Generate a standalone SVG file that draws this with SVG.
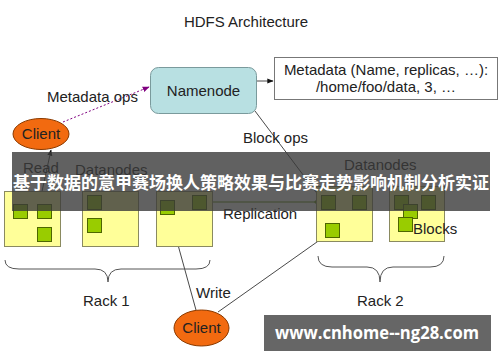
<svg xmlns="http://www.w3.org/2000/svg" width="500" height="362" viewBox="0 0 500 362">
<defs>
<style>
.t{font-family:"Liberation Sans",Arial,sans-serif;font-size:15px;fill:#222;}
.dn{fill:#ffff99;stroke:#8a8a60;stroke-width:1;}
.blk{fill:#99cc00;stroke:#4d6600;stroke-width:1;}
.ln{stroke:#333;stroke-width:0.9;fill:none;}
.brace{stroke:#555;stroke-width:1;fill:none;}
</style>
<marker id="ah" viewBox="0 0 10 10" refX="9" refY="5" markerWidth="7" markerHeight="7" orient="auto-start-reverse">
<path d="M0,1 L10,5 L0,9 z" fill="#111"/>
</marker>
<marker id="ahp" viewBox="0 0 10 10" refX="9" refY="5" markerWidth="7" markerHeight="7" orient="auto">
<path d="M0,1 L10,5 L0,9 z" fill="#800080"/>
</marker>
<marker id="ahg" viewBox="0 0 10 10" refX="5" refY="5" markerWidth="5" markerHeight="5" orient="auto">
<path d="M0,5 L5,0 L10,5 L5,10 z" fill="#5a8a00"/>
</marker>
</defs>
<rect width="500" height="362" fill="#ffffff"/>
<text class="t" x="246" y="27" text-anchor="middle">HDFS Architecture</text>

<g id="connectors">
<path class="ln" d="M257,81 L273,81" marker-end="url(#ah)"/>
<path d="M63,122 L149,87" stroke="#800080" stroke-width="1" stroke-dasharray="2,2" fill="none" marker-end="url(#ahp)"/>
<path class="ln" d="M41,196 L51,150" marker-end="url(#ah)"/>
<path class="ln" d="M255,111 L319,196"/>
<path d="M208,202 L317,202" stroke="#5a8a00" stroke-width="1.2" fill="none" marker-start="url(#ahg)" marker-end="url(#ahg)"/>
<path class="ln" d="M196,310 L170,216" marker-end="url(#ah)"/>
<path class="ln" d="M218,312 L324,237" marker-end="url(#ah)"/>
</g>

<g id="namenode">
<rect x="150.5" y="67.5" width="106" height="46" rx="8" fill="#b8e0e2" stroke="#7a9a9c" stroke-width="1"/>
<text class="t" x="203.5" y="96" text-anchor="middle" font-size="16">Namenode</text>
</g>

<g id="metadata">
<rect x="274.5" y="57.5" width="223" height="42" fill="#fff" stroke="#777" stroke-width="1"/>
<text class="t" x="386" y="75" text-anchor="middle">Metadata (Name, replicas, …):</text>
<text class="t" x="386" y="92" text-anchor="middle">/home/foo/data, 3, …</text>
</g>

<text class="t" x="47" y="102">Metadata ops</text>
<text class="t" x="243" y="143">Block ops</text>

<g id="client-read">
<ellipse cx="41" cy="134" rx="28" ry="15.5" fill="#f26a10" stroke="#8a3a00" stroke-width="1"/>
<text class="t" x="41" y="139" text-anchor="middle">Client</text>
</g>

<text class="t" x="23" y="173">Read</text>
<text class="t" x="75" y="175">Datanodes</text>
<text class="t" x="344" y="170">Datanodes</text>

<g id="dn1">
<rect class="dn" x="4.5" y="191.5" width="56" height="55"/>
<rect class="blk" x="13.5" y="204.5" width="14" height="14"/>
<rect class="blk" x="37.5" y="204.5" width="14" height="14"/>
<rect class="blk" x="37.5" y="227.5" width="14" height="14"/>
</g>
<g id="dn2">
<rect class="dn" x="82.5" y="191.5" width="56" height="55"/>
<rect class="blk" x="87.5" y="195.5" width="14" height="14"/>
<rect class="blk" x="87.5" y="218.5" width="14" height="14"/>
</g>
<g id="dn3">
<rect class="dn" x="156.5" y="191.5" width="56" height="55"/>
<rect class="blk" x="160.5" y="200.5" width="14" height="14"/>
<rect class="blk" x="192.5" y="195.5" width="14" height="14"/>
</g>
<g id="dn4">
<rect class="dn" x="316.5" y="186.5" width="56" height="55"/>
<rect class="blk" x="321.5" y="195.5" width="14" height="14"/>
<rect class="blk" x="352.5" y="195.5" width="14" height="14"/>
<rect class="blk" x="325.5" y="223.5" width="14" height="14"/>
</g>
<g id="dn5">
<rect class="dn" x="389.5" y="186.5" width="55" height="55"/>
<rect class="blk" x="394.5" y="195.5" width="14" height="14"/>
<rect class="blk" x="421.5" y="195.5" width="14" height="14"/>
<rect class="blk" x="403.5" y="204.5" width="14" height="14"/>
<rect class="blk" x="398.5" y="217.5" width="14" height="14"/>
</g>

<text class="t" x="223" y="219">Replication</text>
<text class="t" x="413" y="234">Blocks</text>

<path class="brace" d="M5,260 Q5,269 19,269 L95,269 Q108,269 108,282 Q108,269 121,269 L196,269 Q210,269 210,260"/>
<path class="brace" d="M318,256 Q318,267 332,267 L367,267 Q380,267 380,282 Q380,267 393,267 L430,267 Q444,267 444,256"/>
<text class="t" x="83" y="306">Rack 1</text>
<text class="t" x="357" y="306">Rack 2</text>
<text class="t" x="196" y="298">Write</text>

<g id="client-write">
<ellipse cx="201.5" cy="328" rx="27.5" ry="18" fill="#f26a10" stroke="#8a3a00" stroke-width="1"/>
<text class="t" x="201.5" y="333" text-anchor="middle">Client</text>
</g>

<rect x="12" y="152" width="478" height="59" fill="#3a3a3a" fill-opacity="0.8"/>
<text x="251" y="189" text-anchor="middle" textLength="476" lengthAdjust="spacingAndGlyphs" font-family="'Noto Sans CJK SC',sans-serif" font-size="17" font-weight="bold" fill="#ffffff">基于数据的意甲赛场换人策略效果与比赛走势影响机制分析实证</text>

<rect x="264" y="315" width="227" height="36" fill="#666666"/>
<text x="377" y="339" text-anchor="middle" textLength="204" lengthAdjust="spacingAndGlyphs" font-family="'Open Sans','DejaVu Sans',sans-serif" font-size="17" font-weight="bold" fill="#ffffff">www.cnhome--ng28.com</text>
</svg>
